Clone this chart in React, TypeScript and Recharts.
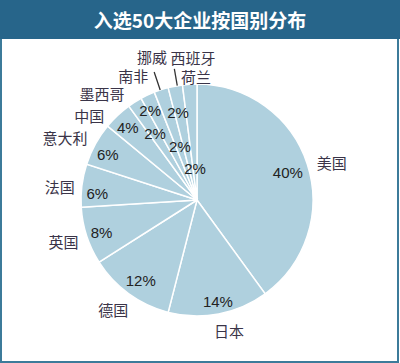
import { PieChart, Pie, Cell } from "recharts";

const countries = ["美国", "日本", "德国", "英国", "法国", "意大利", "中国", "墨西哥", "南非", "挪威", "西班牙", "荷兰"];
const shares = [40, 14, 12, 8, 6, 6, 4, 2, 2, 2, 2, 2];

const title = "入选50大企业按国别分布";

// label placement relative to each slice's mid angle: [radius, clockwise shift in degrees]
const nameSpots = [
  [140, 2.3], [134, -3.0], [138, 1.4], [140, 0.6], [138, -1.4], [146, -3.6],
  [137, -8.6], [143, -9.2], [140, -1.9], [150, 0.5], [143, 9.2], [124, 3.1],
];
const pctSpots = [
  [95, 1], [104, -0.8], [98, -1], [101, -1], [100, -3.2], [100, -2],
  [100, -0.6], [79, 0.3], [101, -2.4], [56, 0.2], [90, -1.4], [32, 0],
];
// leader lines: index -> [shift, from radius, to radius]
const leaders: Record<number, number[]> = {
  9: [-0.5, 116, 135],
  10: [1, 116, 133],
};

const pieData = countries.map((name, i) => ({ name, value: shares[i] }));

const RAD = Math.PI / 180;

function polar(cx: number, cy: number, midAngle: number, r: number, shift: number) {
  const a = (midAngle - shift) * RAD;
  return { x: cx + r * Math.cos(a), y: cy - r * Math.sin(a) };
}

function renderLabel(props: any) {
  const { cx, cy, midAngle, index } = props;
  const [nr, ns] = nameSpots[index];
  const [pr, ps] = pctSpots[index];
  const n = polar(cx, cy, midAngle, nr, ns);
  const p = polar(cx, cy, midAngle, pr, ps);
  const lead = leaders[index];
  let line = null;
  if (lead) {
    const a = polar(cx, cy, midAngle, lead[1], lead[0]);
    const b = polar(cx, cy, midAngle, lead[2], lead[0]);
    line = <line x1={a.x} y1={a.y} x2={b.x} y2={b.y} stroke="#333" strokeWidth={1.3} />;
  }
  return (
    <g>
      {line}
      <text
        x={p.x}
        y={p.y}
        textAnchor="middle"
        dominantBaseline="central"
        fill="#222"
        fontSize={15}
        fontFamily="'Liberation Sans', Arial, sans-serif"
      >
        {shares[index]}%
      </text>
      <text
        x={n.x}
        y={n.y}
        textAnchor="middle"
        dominantBaseline="central"
        fill="#3a3448"
        fontSize={15}
        fontFamily="'Noto Sans CJK SC', sans-serif"
      >
        {countries[index]}
      </text>
    </g>
  );
}

export default function App() {
  return (
    <div
      style={{
        position: "absolute",
        left: 0,
        top: 0,
        width: 400,
        height: 363,
        background: "#fff",
        overflow: "hidden",
      }}
    >
      <div
        style={{
          position: "absolute",
          left: 0,
          top: 0,
          width: 400,
          height: 39,
          background: "#27658a",
          color: "#fff",
          fontFamily: "'Noto Sans CJK SC', sans-serif",
          fontWeight: "bold",
          fontSize: 19,
          lineHeight: "40px",
          textAlign: "center",
        }}
      >
        {title}
      </div>
      <div
        style={{
          position: "absolute",
          left: 0,
          top: 39,
          width: 395,
          height: 322,
          borderLeft: "2px solid #3c7b9a",
          borderRight: "2px solid #3c7b9a",
          borderBottom: "2px solid #3c7b9a",
        }}
      />
      <div style={{ position: "absolute", left: 0, top: 0 }}>
        <PieChart width={400} height={363} margin={{ top: 0, right: 0, bottom: 0, left: 0 }}>
          <Pie
            data={pieData}
            dataKey="value"
            nameKey="name"
            cx={197}
            cy={200}
            outerRadius={116}
            startAngle={90}
            endAngle={-270}
            stroke="#ffffff"
            strokeWidth={1.5}
            label={renderLabel}
            labelLine={false}
            isAnimationActive={false}
          >
            {pieData.map((d) => (
              <Cell key={d.name} fill="#afd0de" />
            ))}
          </Pie>
        </PieChart>
      </div>
    </div>
  );
}
